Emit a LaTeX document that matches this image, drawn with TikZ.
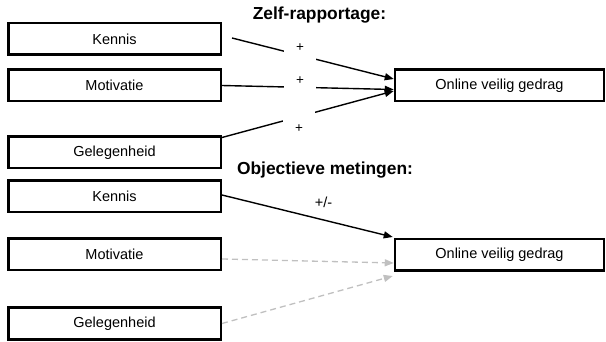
\documentclass[tikz,border=0pt]{standalone}
\usepackage{fontspec}
\setmainfont{Liberation Sans}
\usetikzlibrary{arrows.meta}
\tikzset{
  box/.style={draw, line width=2.5pt, minimum width=212.5pt, minimum height=31.5pt, inner sep=0pt, font=\fontsize{14.5}{16}\selectfont},
  outbox/.style={box, minimum width=209pt},
  title/.style={font=\fontsize{17.4}{20}\selectfont\bfseries, inner sep=0pt},
  conn/.style={line width=1.4pt, -{Triangle[length=9pt,width=7pt]}},
  weak/.style={line width=1.3pt, draw={rgb,255:red,192;green,192;blue,192}, dash pattern=on 6pt off 4pt, -{Triangle[length=9pt,width=7pt,fill={rgb,255:red,192;green,192;blue,192}]}},
  plus/.style={fill=white, inner sep=0pt, minimum width=32pt, anchor=base, font=\fontsize{13.5}{15}\selectfont},
}
\begin{document}
\begin{tikzpicture}[x=1pt,y=-1pt]
\useasboundingbox (0,0) rectangle (606,342);
% titles
\node[title] (t1) at (319.5,15) {Zelf-rapportage:};
\node[title] (t2) at (325,170) {Objectieve metingen:};
% top section
\node[box] (k1) at (114.5,39) {Kennis};
\node[box] (m1) at (114.5,85.5) {Motivatie};
\node[box] (g1) at (114.5,152.5) {Gelegenheid};
\node[outbox] (o1) at (499.5,85.5) {Online veilig gedrag};
\draw[conn] ([xshift=10pt,yshift=1pt]k1.east) -- ([yshift=6.5pt]o1.west);
\draw[conn] (m1.east) -- ([yshift=-4pt]o1.west);
\draw[conn] ([yshift=15pt]g1.east) -- ([yshift=-5.5pt]o1.west);
\node[plus, text height=8pt, text depth=12pt] (p1) at (300,51.2) {+};
\node[plus, text height=8pt, text depth=6pt] (p2) at (300,84.2) {+};
\node[plus, text height=24.2pt, text depth=2pt] (p3) at (299,132.2) {+};
% bottom section
\node[box] (k2) at (114.5,196.5) {Kennis};
\node[box] (m2) at (114.5,254.5) {Motivatie};
\node[box] (g2) at (114.5,323.5) {Gelegenheid};
\node[outbox] (o2) at (499.5,255) {Online veilig gedrag};
\draw[conn] ([yshift=1.5pt]k2.east) -- ([xshift=-1pt,yshift=1pt]o2.north west);
\draw[weak] ([yshift=-4.5pt]m2.east) -- ([yshift=-8pt]o2.west);
\draw[weak] (g2.east) -- ([xshift=-1pt,yshift=-4pt]o2.south west);
\node[font=\fontsize{14.5}{16}\selectfont, inner sep=0pt] (pm) at (323.5,202) {+/-};
\end{tikzpicture}
\end{document}
